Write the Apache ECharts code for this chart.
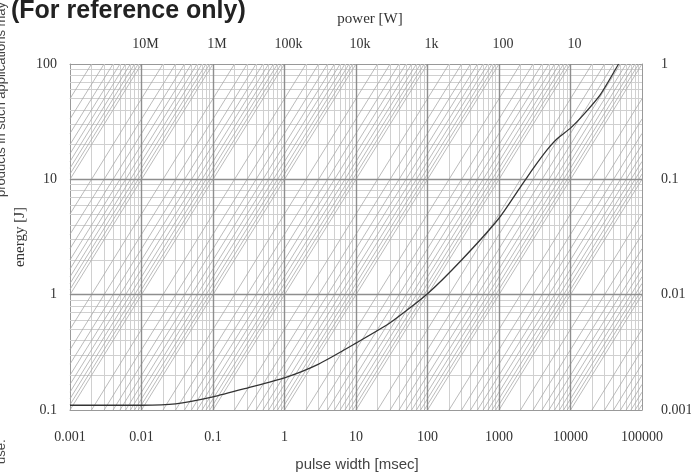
<!DOCTYPE html>
<html>
<head>
<meta charset="utf-8">
<title>energy vs pulse width</title>
<script src="https://cdn.jsdelivr.net/npm/echarts@6/dist/echarts.min.js"></script>
<style>
  html, body { margin: 0; padding: 0; background: #fff; }
  #chart { width: 691px; height: 474px; }
</style>
</head>
<body>
<div id="chart"></div>
<script>
// curve (pulse width in msec, energy in J)
const pulseWidth = [0.001, 0.01, 0.03, 0.1, 0.3, 1, 3, 10, 30, 100, 300, 1000, 2000, 3000, 4700, 6500, 10000, 15000, 26000, 47000];
const energy     = [0.11, 0.11, 0.113, 0.13, 0.155, 0.19, 0.25, 0.38, 0.57, 1.02, 2.0, 4.6, 8.6, 12.4, 18, 22.5, 27.8, 36, 54, 100];

// tick labels, one per decade
const pulseLabels  = ['0.001', '0.01', '0.1', '1', '10', '100', '1000', '10000', '100000'];
const energyLabels = ['0.1', '1', '10', '100'];
const rightLabels  = ['0.001', '0.01', '0.1', '1'];
const powerLabels  = ['', '10M', '1M', '100k', '10k', '1k', '100', '10', ''];

// log paper: decades and steps inside a decade
const pulseDecades  = [-3, -2, -1, 0, 1, 2, 3, 4];
const energyDecades = [-1, 0, 1];
const minorSteps    = [2, 3, 4, 5, 6, 7, 8, 9];
const diagSteps     = [1, 2, 3, 4, 5, 6, 7, 8, 9];
const diagDecades   = [-6, -5, -4, -3, -2, -1, 0, 1, 2, 3, 4];

const T_MIN = 0.001, T_MAX = 100000, E_MIN = 0.1, E_MAX = 100;

function decadeIndex(v, first) {
  return Math.round(Math.log10(v)) - first;
}

// grid lines
const majorLines = [];
const minorLines = [];
const diagLines = [];
pulseDecades.forEach(function (a) {
  const t = Math.pow(10, a);
  if (a > -3) majorLines.push({ coords: [[t, E_MIN], [t, E_MAX]] });
  minorSteps.forEach(function (m) {
    minorLines.push({ coords: [[m * t, E_MIN], [m * t, E_MAX]] });
  });
});
energyDecades.forEach(function (j) {
  const e = Math.pow(10, j);
  if (j > -1) majorLines.push({ coords: [[T_MIN, e], [T_MAX, e]] });
  minorSteps.forEach(function (m) {
    minorLines.push({ coords: [[T_MIN, m * e], [T_MAX, m * e]] });
  });
});
// diagonals through each minor vertical at the bottom edge
diagDecades.forEach(function (a) {
  diagSteps.forEach(function (m) {
    const t0 = m * Math.pow(10, a);
    const t1 = Math.max(t0, T_MIN);
    const t2 = Math.min(t0 * 1000, T_MAX);
    if (t2 <= t1) return;
    diagLines.push({ coords: [[t1, E_MIN * t1 / t0], [t2, E_MIN * t2 / t0]] });
  });
});

const serif = '"Liberation Serif", "Times New Roman", serif';
const sans = '"Liberation Sans", Arial, sans-serif';
const labelStyle = { color: '#333', fontFamily: serif, fontSize: 14 };

const chart = echarts.init(document.getElementById('chart'));
chart.setOption({
  animation: false,
  grid: { left: 70, right: 49, top: 64, bottom: 64, outerBoundsMode: 'none', containLabel: false },
  xAxis: [
    {
      type: 'log', logBase: 10, min: T_MIN, max: T_MAX, position: 'bottom',
      axisLine: { lineStyle: { color: '#999' } },
      axisTick: { show: false },
      splitLine: { show: false },
      axisLabel: Object.assign({ margin: 20, formatter: function (v) { return pulseLabels[decadeIndex(v, -3)]; } }, labelStyle)
    },
    {
      type: 'log', logBase: 10, min: T_MIN, max: T_MAX, position: 'top',
      axisLine: { lineStyle: { color: '#999' } },
      axisTick: { show: false },
      splitLine: { show: false },
      axisLabel: Object.assign({ margin: 13, padding: [0, 0, 0, 8], formatter: function (v) { return powerLabels[decadeIndex(v, -3)] || ''; } }, labelStyle)
    }
  ],
  yAxis: [
    {
      type: 'log', logBase: 10, min: E_MIN, max: E_MAX, position: 'left',
      axisLine: { lineStyle: { color: '#999' } },
      axisTick: { show: false },
      splitLine: { show: false },
      axisLabel: Object.assign({ margin: 13, formatter: function (v) { return energyLabels[decadeIndex(v, -1)]; } }, labelStyle)
    },
    {
      type: 'log', logBase: 10, min: 0.001, max: 1, position: 'right',
      axisLine: { lineStyle: { color: '#999' } },
      axisTick: { show: false },
      splitLine: { show: false },
      axisLabel: Object.assign({ margin: 19, formatter: function (v) { return rightLabels[decadeIndex(v, -3)]; } }, labelStyle)
    }
  ],
  graphic: [
    { type: 'text', x: 11, y: -1, style: { text: '(For reference only)', font: 'bold 25px ' + sans, fill: '#222' } },
    { type: 'text', x: 370, y: 19, style: { text: 'power [W]', font: '15px ' + serif, fill: '#333', align: 'center', verticalAlign: 'middle' } },
    { type: 'text', x: 20, y: 237, rotation: Math.PI / 2, style: { text: 'energy [J]', font: '15px ' + serif, fill: '#333', align: 'center', verticalAlign: 'middle' } },
    { type: 'text', x: 357, y: 465, style: { text: 'pulse width [msec]', font: '15px ' + sans, fill: '#444', align: 'center', verticalAlign: 'middle' } },
    { type: 'text', x: 1, y: 197, rotation: Math.PI / 2, style: { text: 'products in such applications may cause loss', font: '13px ' + sans, fill: '#444', align: 'left', verticalAlign: 'middle' } },
    { type: 'text', x: 1, y: 464, rotation: Math.PI / 2, style: { text: 'use.', font: '13px ' + sans, fill: '#444', align: 'left', verticalAlign: 'middle' } }
  ],
  series: [
    {
      type: 'lines', coordinateSystem: 'cartesian2d', silent: true, z: 1,
      lineStyle: { color: '#d0d0d0', width: 1, opacity: 1 },
      data: minorLines
    },
    {
      type: 'lines', coordinateSystem: 'cartesian2d', silent: true, z: 2,
      lineStyle: { color: '#aaaaaa', width: 0.8, opacity: 1 },
      data: diagLines
    },
    {
      type: 'lines', coordinateSystem: 'cartesian2d', silent: true, z: 3,
      lineStyle: { color: '#8e8e8e', width: 1.4, opacity: 1 },
      data: majorLines
    },
    {
      name: 'energy', type: 'line', z: 5,
      data: pulseWidth.map(function (t, i) { return [t, energy[i]]; }),
      showSymbol: false, smooth: 0.2,
      lineStyle: { color: '#333', width: 1.3 }
    }
  ]
});
</script>
</body>
</html>
